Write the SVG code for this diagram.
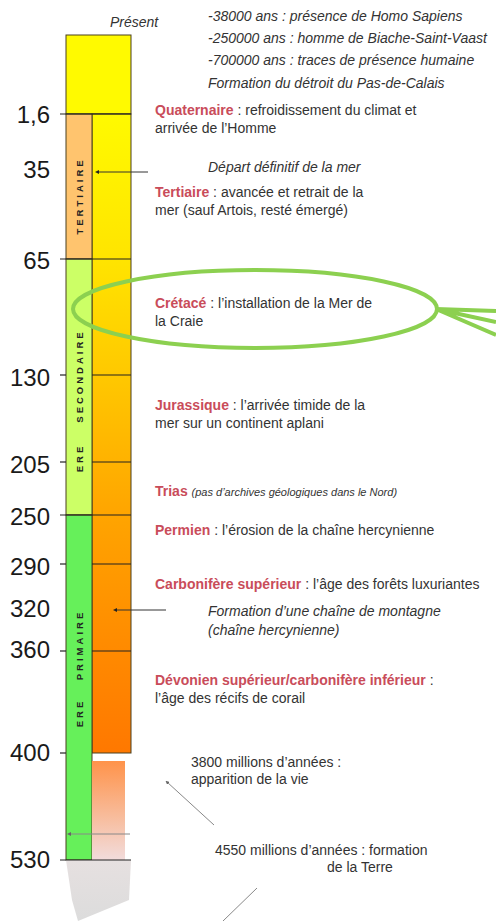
<svg xmlns="http://www.w3.org/2000/svg" width="496" height="921" viewBox="0 0 496 921">
<style>
.num{font-family:"Liberation Sans",Arial,sans-serif;font-size:24px;fill:#1a1a1a;text-anchor:end}
.t{font-family:"Liberation Sans",Arial,sans-serif;font-size:14px;fill:#333}
.it{font-style:italic}
.red{font-weight:bold;fill:#C94C5A}
.era{font-family:"Liberation Sans",Arial,sans-serif;font-size:9.5px;font-weight:bold;fill:#222;letter-spacing:3px;text-anchor:middle}
.tick{stroke:#222;stroke-width:1.2}
.col{stroke:#4a4020;stroke-width:1}
.arr{stroke:#333;stroke-width:1;fill:none}
.arrg{stroke:#888;stroke-width:1;fill:none}
</style>
<defs>
<linearGradient id="gRight" x1="0" y1="114" x2="0" y2="753" gradientUnits="userSpaceOnUse">
<stop offset="0" stop-color="#FFFA00"/>
<stop offset="0.23" stop-color="#FFE400"/>
<stop offset="0.41" stop-color="#FFC800"/>
<stop offset="0.63" stop-color="#FFA400"/>
<stop offset="0.84" stop-color="#FF8A00"/>
<stop offset="1" stop-color="#FF7800"/>
</linearGradient>
<linearGradient id="gFade" x1="0" y1="0" x2="0" y2="1">
<stop offset="0" stop-color="#FF934A"/>
<stop offset="1" stop-color="#F2DCDC"/>
</linearGradient>
<linearGradient id="gGray" x1="0" y1="0" x2="0" y2="1">
<stop offset="0" stop-color="#E6E0E0"/>
<stop offset="1" stop-color="#DCDCDC"/>
</linearGradient>
<marker id="ah" viewBox="0 0 6 6" refX="3" refY="3" markerWidth="4" markerHeight="4" orient="auto-start-reverse">
<path d="M0,0 L6,3 L0,6 z" fill="#222"/>
</marker>
<marker id="ahg" viewBox="0 0 6 6" refX="3" refY="3" markerWidth="4" markerHeight="4" orient="auto-start-reverse">
<path d="M0,0 L6,3 L0,6 z" fill="#666"/>
</marker>
</defs>
<rect width="496" height="921" fill="#fff"/>

<g id="column">
<rect x="66" y="35" width="65" height="79" fill="#FFFA00" class="col"/>
<rect x="92" y="114" width="39" height="639" fill="url(#gRight)" class="col"/>
<rect x="66" y="114" width="26" height="145" fill="#FFC46E" class="col"/>
<rect x="66" y="259" width="26" height="256" fill="#CCFF66" class="col"/>
<rect x="66" y="515" width="26" height="345" fill="#66F05A" class="col"/>
<rect x="92" y="761" width="33" height="99" fill="url(#gFade)"/>
<path d="M66,860 L131,860 L129,900 L78,921 L72,900 Z" fill="url(#gGray)"/>
</g>

<g id="ticks">
<line x1="60" y1="114" x2="131" y2="114" class="tick"/>
<line x1="60" y1="259" x2="131" y2="259" class="tick"/>
<line x1="60" y1="375" x2="66" y2="375" class="tick"/>
<line x1="92" y1="375" x2="131" y2="375" class="tick"/>
<line x1="60" y1="462" x2="66" y2="462" class="tick"/>
<line x1="92" y1="462" x2="131" y2="462" class="tick"/>
<line x1="60" y1="515" x2="131" y2="515" class="tick"/>
<line x1="60" y1="564" x2="66" y2="564" class="tick"/>
<line x1="92" y1="564" x2="131" y2="564" class="tick"/>
<line x1="60" y1="651" x2="66" y2="651" class="tick"/>
<line x1="92" y1="651" x2="131" y2="651" class="tick"/>
<line x1="60" y1="753" x2="66" y2="753" class="tick"/>
<line x1="60" y1="860" x2="131" y2="860" class="tick"/>
</g>

<g id="scale">
<text class="num" x="50" y="123">1,6</text>
<text class="num" x="50" y="178">35</text>
<text class="num" x="50" y="269">65</text>
<text class="num" x="50" y="386">130</text>
<text class="num" x="50" y="473">205</text>
<text class="num" x="50" y="525">250</text>
<text class="num" x="50" y="575">290</text>
<text class="num" x="50" y="617">320</text>
<text class="num" x="50" y="658">360</text>
<text class="num" x="50" y="761">400</text>
<text class="num" x="50" y="868">530</text>
</g>

<g id="eras">
<text class="era" transform="translate(83,196) rotate(-90)">TERTIAIRE</text>
<text class="era" transform="translate(83,458) rotate(-90)">ERE</text>
<text class="era" transform="translate(83,376) rotate(-90)">SECONDAIRE</text>
<text class="era" transform="translate(83,713) rotate(-90)">ERE</text>
<text class="era" transform="translate(83,645) rotate(-90)">PRIMAIRE</text>
</g>

<g id="present"><text class="t it" x="110" y="27">Présent</text></g>

<g id="top-notes">
<text class="t it" x="208" y="21">-38000 ans : présence de Homo Sapiens</text>
<text class="t it" x="208" y="43">-250000 ans : homme de Biache-Saint-Vaast</text>
<text class="t it" x="208" y="65">-700000 ans : traces de présence humaine</text>
<text class="t it" x="208" y="88">Formation du détroit du Pas-de-Calais</text>
</g>

<g id="quaternaire">
<text class="t" x="155" y="115"><tspan class="red">Quaternaire</tspan> : refroidissement du climat et</text>
<text class="t" x="155" y="133">arrivée de l’Homme</text>
</g>
<g id="depart"><text class="t it" x="208" y="172">Départ définitif de la mer</text></g>
<g id="tertiaire">
<text class="t" x="155" y="197"><tspan class="red">Tertiaire</tspan> : avancée et retrait de la</text>
<text class="t" x="155" y="215">mer (sauf Artois, resté émergé)</text>
</g>
<g id="cretace">
<text class="t" x="155" y="308"><tspan class="red">Crétacé</tspan> : l’installation de la Mer de</text>
<text class="t" x="155" y="326">la Craie</text>
</g>
<g id="jurassique">
<text class="t" x="155" y="410"><tspan class="red">Jurassique</tspan> : l’arrivée timide de la</text>
<text class="t" x="155" y="428">mer sur un continent aplani</text>
</g>
<g id="trias">
<text class="t" x="155" y="496"><tspan class="red">Trias</tspan> <tspan class="it" font-size="11">(pas d’archives géologiques dans le Nord)</tspan></text>
</g>
<g id="permien">
<text class="t" x="155" y="535"><tspan class="red">Permien</tspan> : l’érosion de la chaîne hercynienne</text>
</g>
<g id="carbonifere">
<text class="t" x="155" y="589"><tspan class="red">Carbonifère supérieur</tspan> : l’âge des forêts luxuriantes</text>
</g>
<g id="formation-chaine">
<text class="t it" x="208" y="616">Formation d’une chaîne de montagne</text>
<text class="t it" x="208" y="635">(chaîne hercynienne)</text>
</g>
<g id="devonien">
<text class="t" x="155" y="685"><tspan class="red">Dévonien supérieur/carbonifère inférieur</tspan> :</text>
<text class="t" x="155" y="703">l’âge des récifs de corail</text>
</g>
<g id="vie">
<text class="t" x="191" y="767" fill="#222">3800 millions d’années :</text>
<text class="t" x="191" y="784" fill="#222">apparition de la vie</text>
</g>
<g id="terre">
<text class="t" x="215" y="855" fill="#222">4550 millions d’années : formation</text>
<text class="t" x="327" y="872" fill="#222">de la Terre</text>
</g>

<g id="highlight">
<ellipse cx="255" cy="309" rx="182" ry="39" fill="none" stroke="#8CD050" stroke-width="4"/>
<path d="M436,309 L496,311 M436,309 L496,322 M436,309 L496,335" stroke="#8CD050" stroke-width="4" fill="none"/>
</g>

<g id="connectors">
<line x1="148" y1="172" x2="97" y2="172" class="arr" marker-end="url(#ah)"/>
<line x1="166" y1="610" x2="115" y2="610" class="arr" marker-end="url(#ah)"/>
<line x1="130" y1="834" x2="69" y2="834" class="arrg" marker-end="url(#ahg)"/>
<line x1="214" y1="825" x2="167" y2="782" class="arrg" marker-end="url(#ahg)"/>
<line x1="257" y1="888" x2="223" y2="921" class="arrg"/>
</g>
</svg>
